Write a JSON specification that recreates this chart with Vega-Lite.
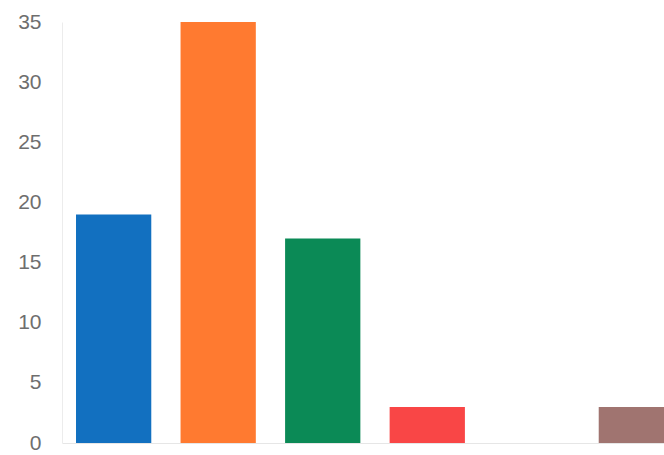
{
  "$schema": "https://vega.github.io/schema/vega-lite/v6.json",
  "autosize": "none",
  "padding": {"left": 62, "top": 22, "right": 0, "bottom": 12},
  "width": 626,
  "height": 421,
  "background": "white",
  "data": {"values": [
    {"category": "A", "value": 19},
    {"category": "B", "value": 35},
    {"category": "C", "value": 17},
    {"category": "D", "value": 3},
    {"category": "E", "value": 0},
    {"category": "F", "value": 3}
  ]},
  "mark": {"type": "bar"},
  "encoding": {
    "x": {"field": "category", "type": "nominal", "sort": null,
      "scale": {"paddingInner": 0.28, "paddingOuter": 0.134},
      "axis": {"labels": false, "ticks": false, "title": null, "domainColor": "#e6e6e6", "domainWidth": 1}},
    "y": {"field": "value", "type": "quantitative",
      "scale": {"domain": [0, 35], "nice": false},
      "axis": {"values": [0, 5, 10, 15, 20, 25, 30, 35], "title": null, "ticks": false, "grid": false,
        "domainColor": "#ececec", "labelFont": "Liberation Sans", "labelFontSize": 21, "labelColor": "#6e6e6e",
        "labelPadding": 21}},
    "color": {"field": "category", "type": "nominal", "legend": null,
      "scale": {"domain": ["A", "B", "C", "D", "E", "F"],
        "range": ["#1270c0", "#ff7a30", "#0b8a56", "#f94646", "#9467bd", "#a07470"]}}
  },
  "config": {"view": {"stroke": null}}
}
